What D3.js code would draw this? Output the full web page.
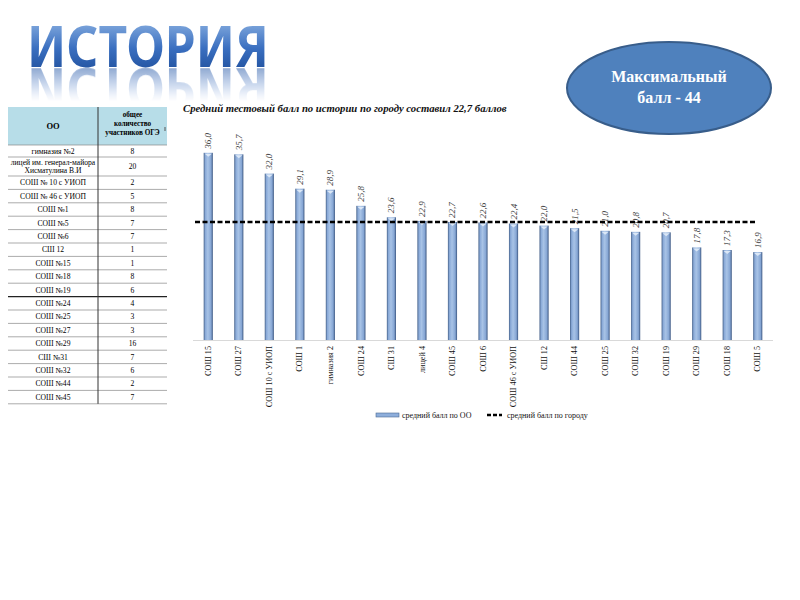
<!DOCTYPE html>
<html lang="ru">
<head>
<meta charset="UTF-8">
<title>История</title>
<script src="https://d3js.org/d3.v7.min.js"></script>
<style>
  body { margin: 0; background: #fff; }
  #wrap { position: relative; width: 800px; height: 600px; }
  svg { display: block; }
  #title {
    position: absolute;
    left: 27px;
    top: 17.4px;
    font: bold 57px 'Noto Sans';
    line-height: 57px;
    white-space: nowrap;
    transform-origin: 0 0;
    background: linear-gradient(to bottom, #8fb4e3 0%, #3a6fc0 55%, #1f4f9c 100%);
    -webkit-background-clip: text;
    background-clip: text;
    color: transparent;
    -webkit-box-reflect: below -12.8px linear-gradient(to bottom, transparent 30%, rgba(255, 255, 255, 0.55) 92%);
  }
</style>
</head>
<body>
<div id="wrap">
  <div id="chart"></div>
  <div id="title">ИСТОРИЯ</div>
</div>
<script>
  // данные диаграммы
  const schools = ['СОШ 15', 'СОШ 27', 'СОШ 10 с УИОП', 'СОШ 1', 'гимназия 2', 'СОШ 24', 'СШ 31',
    'лицей 4', 'СОШ 45', 'СОШ 6', 'СОШ 46 с УИОП', 'СШ 12', 'СОШ 44', 'СОШ 25', 'СОШ 32',
    'СОШ 19', 'СОШ 29', 'СОШ 18', 'СОШ 5'];
  const scores = [36.0, 35.7, 32.0, 29.1, 28.9, 25.8, 23.6, 22.9, 22.7, 22.6, 22.4, 22.0, 21.5,
    21.0, 20.8, 20.7, 17.8, 17.3, 16.9];
  const cityAvg = 22.7;

  // таблица слева
  const tableNames = ['гимназия №2', 'лицей им. генерал-майора|Хисматулина В.И', 'СОШ № 10 с УИОП',
    'СОШ № 46 с УИОП', 'СОШ №1', 'СОШ №5', 'СОШ №6', 'СШ 12', 'СОШ №15', 'СОШ №18', 'СОШ №19',
    'СОШ №24', 'СОШ №25', 'СОШ №27', 'СОШ №29', 'СШ №31', 'СОШ №32', 'СОШ №44', 'СОШ №45'];
  const tableCounts = [8, 20, 2, 5, 8, 7, 7, 1, 1, 8, 6, 4, 3, 3, 16, 7, 6, 2, 7];
  const tableHead = ['общее', 'количество', 'участников ОГЭ'];

  // заголовок ИСТОРИЯ: ширина под оригинал (~242px)
  const title = document.getElementById('title');
  const tw = title.getBoundingClientRect().width;
  title.style.transform = `scaleX(${242 / tw})`;

  const svg = d3.select('#chart').append('svg')
    .attr('width', 800).attr('height', 600);
  const defs = svg.append('defs');

  // ---------- овал ----------
  svg.append('ellipse')
    .attr('cx', 669).attr('cy', 88).attr('rx', 102).attr('ry', 46)
    .attr('fill', '#4f81bd').attr('stroke', '#385d8a').attr('stroke-width', 2);
  svg.append('g')
    .attr('font-family', 'Liberation Serif').attr('font-weight', 'bold').attr('font-size', 16)
    .attr('fill', '#fff').attr('text-anchor', 'middle')
    .selectAll('text').data(['Максимальный', 'балл - 44']).join('text')
    .attr('x', 669).attr('y', (d, i) => 82 + i * 21).text(d => d);

  // ---------- таблица ----------
  const tX0 = 8, tX1 = 98, tX2 = 167;
  const headTop = 107, headBot = 145;
  const rowH = tableNames.map((n, i) => i === 0 ? 12 : (n.includes('|') ? 19 : 13.4));
  const rowY = [];
  let acc = headBot;
  rowH.forEach(h => { rowY.push(acc); acc += h; });
  rowY.push(acc);

  const table = svg.append('g').attr('font-family', 'Liberation Serif').attr('fill', '#000');
  table.append('rect').attr('x', tX0).attr('y', headTop).attr('width', tX2 - tX0)
    .attr('height', headBot - headTop).attr('fill', '#b7dde8');
  table.append('text').attr('x', (tX0 + tX1) / 2).attr('y', 129).attr('text-anchor', 'middle')
    .attr('font-size', 8.5).attr('font-weight', 'bold').text('ОО');
  table.append('g').attr('text-anchor', 'middle').attr('font-size', 7.2).attr('font-weight', 'bold')
    .selectAll('text').data(tableHead).join('text')
    .attr('x', (tX1 + tX2) / 2).attr('y', (d, i) => 117 + i * 9).text(d => d);
  table.append('line').attr('x1', 165).attr('x2', 165).attr('y1', 127).attr('y2', 131)
    .attr('stroke', '#555');

  tableNames.forEach((n, i) => {
    const lines = n.split('|');
    const yc = (rowY[i] + rowY[i + 1]) / 2;
    table.append('g').attr('text-anchor', 'middle').attr('font-size', 7.6)
      .selectAll('text').data(lines).join('text')
      .attr('x', (tX0 + tX1) / 2)
      .attr('y', (d, j) => yc + 2.7 + (j - (lines.length - 1) / 2) * 8.5)
      .text(d => d);
    table.append('text').attr('x', (tX1 + tX2) / 2).attr('y', yc + 2.7)
      .attr('text-anchor', 'middle').attr('font-size', 7.6).text(tableCounts[i]);
  });
  table.selectAll('line.row').data(rowY).join('line').attr('class', 'row')
    .attr('x1', tX0).attr('x2', tX2).attr('y1', d => d).attr('y2', d => d)
    .attr('stroke', (d, i) => i === 11 ? '#222' : '#888')
    .attr('stroke-width', (d, i) => i === 11 ? 1.3 : 0.7);
  table.append('line').attr('x1', tX1).attr('x2', tX1).attr('y1', headTop).attr('y2', rowY[rowY.length - 1])
    .attr('stroke', '#333').attr('stroke-width', 1);

  // ---------- диаграмма ----------
  svg.append('text')
    .attr('x', 183).attr('y', 112)
    .attr('font-family', 'Liberation Serif').attr('font-style', 'italic').attr('font-weight', 'bold')
    .attr('font-size', 10.7).attr('fill', '#111')
    .text('Средний тестовый балл по истории по городу составил 22,7 баллов');

  const x = d3.scaleBand().domain(schools).range([193, 773]).paddingInner(0.7).paddingOuter(0.35);
  const y = d3.scaleLinear().domain([0, 40]).range([340, 132]);

  const bg = defs.append('linearGradient').attr('id', 'barGrad')
    .attr('x1', 0).attr('y1', 0).attr('x2', 1).attr('y2', 0);
  [['0%', '#46628a'], ['18%', '#8aaad8'], ['45%', '#a8c3e6'], ['80%', '#86a6d4'], ['100%', '#3b5680']]
    .forEach(s => bg.append('stop').attr('offset', s[0]).attr('stop-color', s[1]));

  const bars = svg.append('g');
  bars.selectAll('rect.bar').data(schools).join('rect').attr('class', 'bar')
    .attr('x', d => x(d)).attr('width', x.bandwidth())
    .attr('y', (d, i) => y(scores[i])).attr('height', (d, i) => y(0) - y(scores[i]))
    .attr('fill', 'url(#barGrad)');
  bars.selectAll('path.cap').data(schools).join('path').attr('class', 'cap')
    .attr('d', (d, i) => {
      const x0 = x(d), w = x.bandwidth(), t = y(scores[i]);
      return `M${x0 + 1},${t + 1}L${x0 + w - 1},${t + 1}L${x0 + w / 2},${t + 4}Z`;
    })
    .attr('fill', '#dbe7f6');

  // подписи значений
  svg.append('g').selectAll('text').data(schools).join('text')
    .attr('transform', (d, i) => `translate(${x(d) + x.bandwidth() / 2 + 3},${y(scores[i]) - 4}) rotate(-90)`)
    .attr('font-family', 'Liberation Serif').attr('font-style', 'italic').attr('font-size', 9)
    .attr('fill', '#404040')
    .text((d, i) => d3.format('.1f')(scores[i]).replace('.', ','));

  // ось X
  const xAxis = svg.append('g').attr('transform', `translate(0,${y(0)})`)
    .call(d3.axisBottom(x).tickSize(0).tickPadding(0));
  xAxis.select('.domain').attr('stroke', '#d9d9d9').attr('d', 'M193,0.5H773');
  xAxis.selectAll('text')
    .attr('transform', 'rotate(-90)')
    .attr('text-anchor', 'end').attr('dy', '0.32em').attr('x', -6).attr('y', 0)
    .attr('font-family', 'Liberation Serif').attr('font-size', 8.2).attr('fill', '#111');

  // средний балл по городу
  svg.append('line')
    .attr('x1', 195).attr('x2', 757).attr('y1', y(cityAvg)).attr('y2', y(cityAvg))
    .attr('stroke', '#000').attr('stroke-width', 2.5).attr('stroke-dasharray', '5,2.5');

  // легенда
  const lg = svg.append('g').attr('font-family', 'Liberation Serif').attr('font-size', 8).attr('fill', '#111');
  lg.append('rect').attr('x', 376).attr('y', 413).attr('width', 23).attr('height', 4)
    .attr('fill', '#8eaedb').attr('stroke', '#4c6a93').attr('stroke-width', 0.6);
  lg.append('text').attr('x', 402).attr('y', 418).text('средний балл по ОО');
  lg.append('line').attr('x1', 487).attr('x2', 502).attr('y1', 415).attr('y2', 415)
    .attr('stroke', '#000').attr('stroke-width', 2.5).attr('stroke-dasharray', '4,2');
  lg.append('text').attr('x', 507).attr('y', 418).text('средний балл по городу');
</script>
</body>
</html>
